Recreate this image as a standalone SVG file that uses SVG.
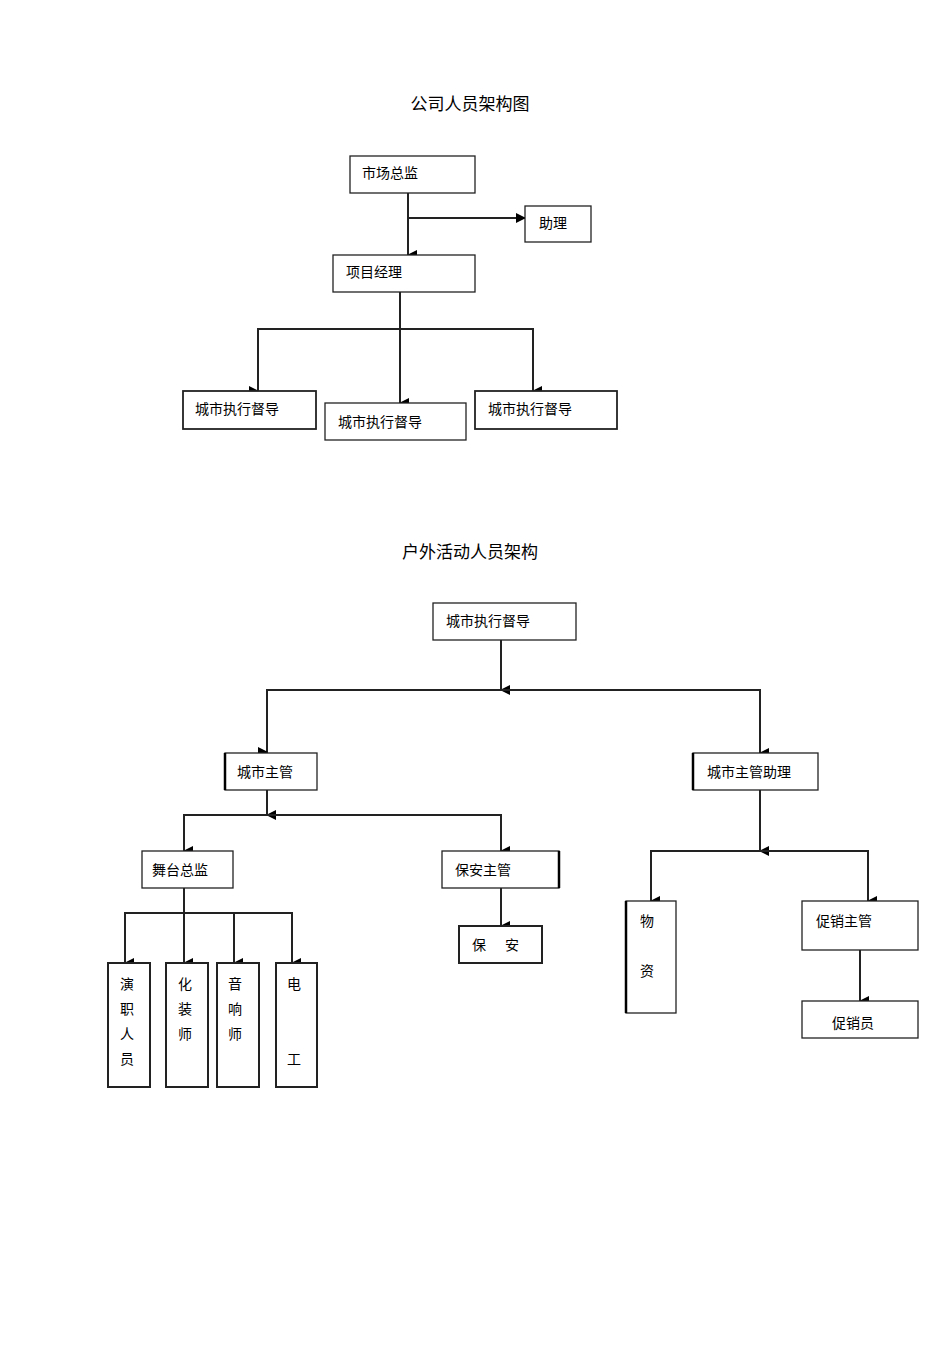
<svg xmlns="http://www.w3.org/2000/svg" width="950" height="1345" viewBox="0 0 950 1345">
<defs>
<marker id="a" markerWidth="10" markerHeight="10" refX="5" refY="9" orient="auto" markerUnits="userSpaceOnUse" viewBox="0 0 10 10"><path d="M0,0 L10,0 L5,10 Z" fill="#000"/></marker>
<marker id="ar" markerWidth="10" markerHeight="10" refX="9" refY="5" orient="auto-start-reverse" markerUnits="userSpaceOnUse" viewBox="0 0 10 10"><path d="M0,0 L10,5 L0,10 Z" fill="#000"/></marker>
</defs>
<style>
text{font-family:"Liberation Sans","Noto Sans CJK SC",sans-serif;font-size:14px;fill:#000}
.t{font-size:17px}
rect{fill:#fff;stroke:#222;stroke-width:1.3}
.c line,.c path{stroke:#222;stroke-width:2;fill:none}
.v text{text-anchor:middle}
</style>
<rect x="0" y="0" width="950" height="1345" style="stroke:none"/>
<text class="t" x="470" y="110" text-anchor="middle">公司人员架构图</text>
<text class="t" x="470" y="558" text-anchor="middle">户外活动人员架构</text>
<g class="c">
<line x1="408" y1="193" x2="408" y2="255" marker-end="url(#a)"/>
<line x1="408" y1="218" x2="525" y2="218" marker-end="url(#ar)"/>
<line x1="400" y1="292" x2="400" y2="403" marker-end="url(#a)"/>
<path d="M258,391 V329 H533 V391" marker-start="url(#a)" marker-end="url(#a)"/>
<line x1="501" y1="640" x2="501" y2="690" marker-end="url(#a)"/>
<path d="M267,753 V690 H760 V753" marker-end="url(#a)"/>
<line x1="267" y1="753" x2="267" y2="752" marker-end="url(#a)"/>
<line x1="267" y1="790" x2="267" y2="815" marker-end="url(#a)"/>
<path d="M184,851 V815 H501 V851" marker-end="url(#a)"/>
<line x1="184" y1="850" x2="184" y2="851" marker-end="url(#a)"/>
<line x1="501" y1="888" x2="501" y2="926" marker-end="url(#a)"/>
<line x1="184" y1="888" x2="184" y2="963" marker-end="url(#a)"/>
<path d="M125,963 V913 H292 V963" marker-end="url(#a)"/>
<line x1="125" y1="962" x2="125" y2="963" marker-end="url(#a)"/>
<line x1="234" y1="913" x2="234" y2="963" marker-end="url(#a)"/>
<line x1="760" y1="790" x2="760" y2="851" marker-end="url(#a)"/>
<path d="M651,901 V851 H868 V901" marker-end="url(#a)"/>
<line x1="651" y1="900" x2="651" y2="901" marker-end="url(#a)"/>
<line x1="860" y1="950" x2="860" y2="1001" marker-end="url(#a)"/>
</g>
<g id="n1"><rect x="350" y="156" width="125" height="37"/><text x="362" y="178">市场总监</text></g>
<g id="n2"><rect x="525" y="206" width="66" height="36"/><text x="539" y="228">助理</text></g>
<g id="n3"><rect x="333" y="255" width="142" height="37"/><text x="346" y="277">项目经理</text></g>
<g id="n4"><rect x="183" y="391" width="133" height="38" style="stroke-width:1.8"/><text x="195" y="414">城市执行督导</text></g>
<g id="n5"><rect x="325" y="403" width="141" height="37"/><text x="338" y="427">城市执行督导</text></g>
<g id="n6"><rect x="475" y="391" width="142" height="38" style="stroke-width:1.8"/><text x="488" y="414">城市执行督导</text></g>
<g id="n7"><rect x="433" y="603" width="143" height="37"/><text x="446" y="626">城市执行督导</text></g>
<g id="n8"><rect x="225" y="753" width="92" height="37"/><line x1="225" y1="753" x2="225" y2="790" stroke="#000" stroke-width="2.5"/><text x="237" y="777">城市主管</text></g>
<g id="n9"><rect x="693" y="753" width="125" height="37"/><line x1="693" y1="753" x2="693" y2="790" stroke="#000" stroke-width="2.5"/><text x="707" y="777">城市主管助理</text></g>
<g id="n10"><rect x="142" y="851" width="91" height="37"/><text x="152" y="875">舞台总监</text></g>
<g id="n11"><rect x="442" y="851" width="117" height="37"/><line x1="559" y1="851" x2="559" y2="888" stroke="#000" stroke-width="2.5"/><text x="455" y="875">保安主管</text></g>
<g id="n12"><rect x="459" y="926" width="83" height="37" style="stroke-width:2"/><text x="472" y="950">保</text><text x="505" y="950">安</text></g>
<g class="v">
<g id="n13"><rect x="108" y="963" width="42" height="124" style="stroke-width:2"/><text x="127" y="989">演</text><text x="127" y="1014">职</text><text x="127" y="1039">人</text><text x="127" y="1064">员</text></g>
<g id="n14"><rect x="166" y="963" width="42" height="124" style="stroke-width:2"/><text x="185" y="989">化</text><text x="185" y="1014">装</text><text x="185" y="1039">师</text></g>
<g id="n15"><rect x="217" y="963" width="42" height="124" style="stroke-width:2"/><text x="235" y="989">音</text><text x="235" y="1014">响</text><text x="235" y="1039">师</text></g>
<g id="n16"><rect x="276" y="963" width="41" height="124" style="stroke-width:2"/><text x="294" y="989">电</text><text x="294" y="1064">工</text></g>
<g id="n17"><rect x="626" y="901" width="50" height="112"/><line x1="626" y1="901" x2="626" y2="1013" stroke="#000" stroke-width="2.5"/><text x="647" y="926">物</text><text x="647" y="976">资</text></g>
</g>
<g id="n18"><rect x="802" y="901" width="116" height="49"/><text x="816" y="926">促销主管</text></g>
<g id="n19"><rect x="802" y="1001" width="116" height="37"/><text x="832" y="1028">促销员</text></g>
</svg>
